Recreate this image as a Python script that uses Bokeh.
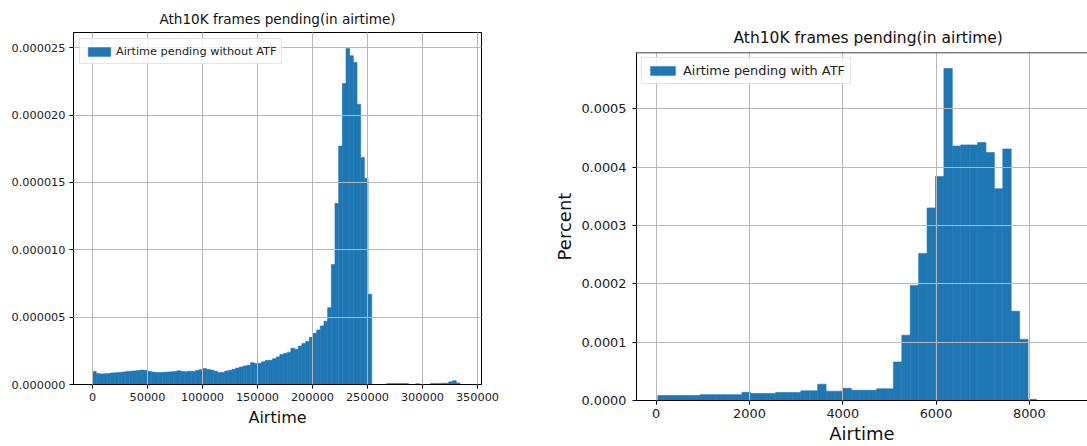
from bokeh.plotting import figure
from bokeh.layouts import row, column
from bokeh.models import FixedTicker, PrintfTickFormatter, Range1d, Span, Spacer
from bokeh.embed import file_html
from bokeh.resources import INLINE

FONT = "DejaVu Sans"
BLUE = "#1f77b4"
GRID = "#b8b8b8"

# ---------------- data ----------------
title_text = "Ath10K frames pending(in airtime)"

left_label = "Airtime pending without ATF"
left_bin_start = 0
left_bin_width = 3340
left_density_e6 = [
    0.97, 0.82, 0.78, 0.80, 0.82, 0.86, 0.88, 0.89, 0.93, 0.97,
    0.99, 1.01, 1.03, 1.07, 1.05, 0.98, 0.92, 0.89, 0.89, 0.91,
    0.92, 0.94, 0.96, 1.02, 0.97, 0.95, 0.99, 0.97, 1.03, 1.10,
    1.18, 1.12, 1.07, 0.98, 0.88, 0.90, 1.00, 1.06, 1.13, 1.22,
    1.30, 1.38, 1.42, 1.62, 1.55, 1.58, 1.68, 1.78, 1.80, 1.92,
    2.05, 2.22, 2.30, 2.40, 2.70, 2.62, 2.85, 3.05, 3.20, 3.50,
    3.80, 4.05, 4.35, 4.70, 5.70, 8.90, 13.45, 17.70, 22.35, 24.95,
    24.40, 23.90, 20.80, 16.85, 15.30, 6.70, 0.0, 0.0, 0.0, 0.0,
    0.07, 0.07, 0.07, 0.07, 0.07, 0.07, 0.0, 0.0, 0.06, 0.0,
    0.0, 0.0, 0.07, 0.08, 0.08, 0.09, 0.10, 0.20, 0.28, 0.12,
]
left_xticks = [0, 50000, 100000, 150000, 200000, 250000, 300000, 350000]
left_yticks = [0.0, 0.000005, 0.000010, 0.000015, 0.000020, 0.000025]

right_label = "Airtime pending with ATF"
right_bin_start = 34
right_bin_width = 180.4
right_density_e4 = [
    0.085, 0.085, 0.085, 0.085, 0.085, 0.10, 0.10, 0.10, 0.10, 0.10,
    0.14, 0.12, 0.12, 0.12, 0.135, 0.135, 0.135, 0.165, 0.165, 0.28,
    0.16, 0.16, 0.21, 0.175, 0.175, 0.175, 0.20, 0.20, 0.66, 1.12,
    1.97, 2.52, 3.30, 3.84, 5.69, 4.36, 4.38, 4.38, 4.42, 4.25,
    3.63, 4.31, 1.53, 1.05, 0.02, 0.0, 0.0, 0.0, 0.0, 0.0,
]
right_xticks = [0, 2000, 4000, 6000, 8000]
right_yticks = [0.0, 0.0001, 0.0002, 0.0003, 0.0004, 0.0005]

x_label = "Airtime"
y_label_right = "Percent"

left_density = [v * 1e-6 for v in left_density_e6]
right_density = [v * 1e-4 for v in right_density_e4]
left_centers = [left_bin_start + (i + 0.5) * left_bin_width for i in range(len(left_density))]
right_centers = [right_bin_start + (i + 0.5) * right_bin_width for i in range(len(right_density))]


def style(p, xfmt, yfmt, xticks, yticks, fs, title_fs, label_fs, tick_len):
    p.title.text_font = FONT
    p.title.text_font_style = "normal"
    p.title.text_font_size = title_fs
    p.title.text_color = "#111111"
    for ax in (p.xaxis[0], p.yaxis[0]):
        ax.major_label_text_font = FONT
        ax.major_label_text_font_size = fs
        ax.major_label_text_color = "#222222"
        ax.axis_label_text_font = FONT
        ax.axis_label_text_font_size = label_fs
        ax.axis_label_text_font_style = "normal"
        ax.axis_label_text_color = "#111111"
        ax.axis_line_color = "black"
        ax.major_tick_line_color = "black"
        ax.major_tick_in = 0
        ax.major_tick_out = tick_len
        ax.minor_tick_line_color = None
    p.xaxis[0].ticker = FixedTicker(ticks=xticks)
    p.yaxis[0].ticker = FixedTicker(ticks=yticks)
    p.xaxis[0].formatter = PrintfTickFormatter(format=xfmt)
    p.yaxis[0].formatter = PrintfTickFormatter(format=yfmt)
    p.grid.grid_line_color = GRID
    p.grid.grid_line_width = 1
    p.grid.level = "guide"
    p.background_fill_color = "white"
    p.border_fill_color = "white"


def style_legend(p, fs, gw, gh, lh, standoff, margin):
    lg = p.legend[0]
    lg.location = "top_left"
    lg.margin = margin
    lg.padding = 5
    lg.spacing = 0
    lg.glyph_width = gw
    lg.glyph_height = gh
    lg.label_height = lh
    lg.label_standoff = standoff
    lg.label_text_font = FONT
    lg.label_text_font_size = fs
    lg.label_text_color = "#222222"
    lg.border_line_color = "#cccccc"
    lg.border_line_width = 1
    lg.background_fill_alpha = 0.8


# ---------------- left chart ----------------
p1 = figure(width=540, height=430, output_backend="svg", toolbar_location=None,
            title=title_text,
            x_range=Range1d(-17273, 353636), y_range=Range1d(0, 26.13e-6),
            min_border_left=73, min_border_right=59, min_border_top=32, min_border_bottom=46)
p1.vbar(x=left_centers, width=left_bin_width, top=left_density, bottom=0,
        fill_color=BLUE, line_color=BLUE, line_width=0.6, legend_label=left_label)
style(p1, "%d", "%.6f", left_xticks, left_yticks, "11.3px", "13.6px", "16px", 4)
p1.xaxis[0].axis_label = x_label
p1.xaxis[0].major_label_standoff = 4
p1.xaxis[0].axis_label_standoff = 4
p1.yaxis[0].major_label_standoff = 4
p1.outline_line_color = "black"
p1.outline_line_alpha = 1
p1.outline_line_width = 1
p1.title.align = "center"
p1.title.standoff = 11
style_legend(p1, "11.3px", 28, 11, 14, 3, 6)

# ---------------- right chart ----------------
p2 = figure(width=547, height=426, output_backend="svg", toolbar_location=None,
            title=title_text,
            x_range=Range1d(-422, 9246), y_range=Range1d(0, 5.963e-4),
            min_border_left=96, min_border_right=0, min_border_top=32, min_border_bottom=46)
p2.vbar(x=right_centers, width=right_bin_width, top=right_density, bottom=0,
        fill_color=BLUE, line_color=BLUE, line_width=0.6, legend_label=right_label)
style(p2, "%d", "%.4f", right_xticks, right_yticks, "12.9px", "15.5px", "18px", 4)
p2.xaxis[0].axis_label = x_label
p2.xaxis[0].major_label_standoff = 4
p2.xaxis[0].axis_label_standoff = 2
p2.yaxis[0].axis_label = y_label_right
p2.yaxis[0].major_label_standoff = 6
p2.yaxis[0].axis_label_standoff = 3
p2.outline_line_color = None
p2.title.align = "left"
p2.title.offset = 97
p2.title.standoff = 12
p2.add_layout(Span(location=5.963e-4, dimension="width", line_color="black", line_width=1.5))
style_legend(p2, "12.9px", 31, 11, 15, 5, 5)

layout = row(p1, column(Spacer(width=547, height=20), p2))
open("out.html", "w").write(file_html(layout, INLINE))
